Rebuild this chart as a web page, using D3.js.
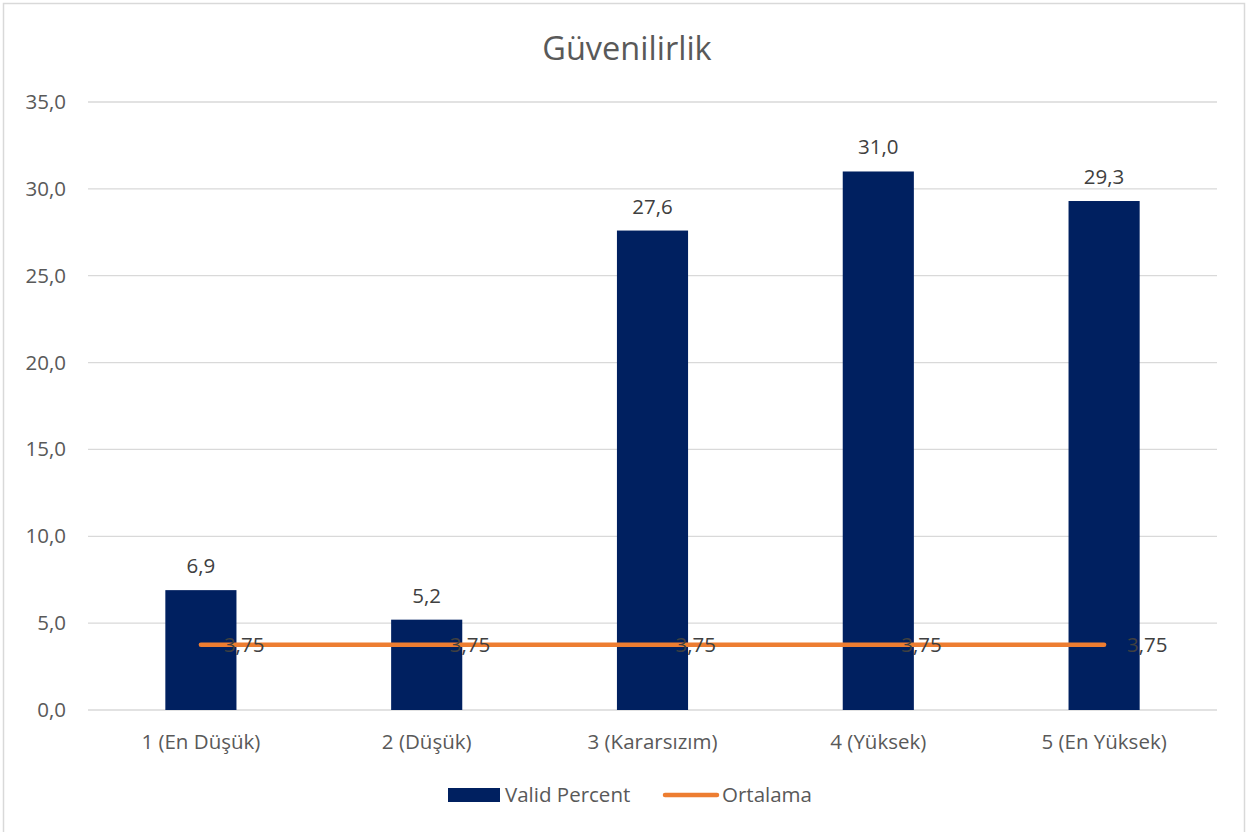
<!DOCTYPE html>
<html><head><meta charset="utf-8">
<script src="https://cdn.jsdelivr.net/npm/d3@7"></script>
<style>body{margin:0;background:#fff}svg{display:block}</style>
</head><body>
<script>
const categories = ["1 (En Düşük)", "2 (Düşük)", "3 (Kararsızım)", "4 (Yüksek)", "5 (En Yüksek)"];
const validPercent = [6.9, 5.2, 27.6, 31.0, 29.3];
const ortalama = [3.75, 3.75, 3.75, 3.75, 3.75];
const yTicks = [0, 5, 10, 15, 20, 25, 30, 35];
const title = "Güvenilirlik";
const seriesNames = ["Valid Percent", "Ortalama"];

const W = 1247, H = 832;
const font = "'Open Sans', sans-serif";
const fs = 20.5;
const fmt1 = d => d3.format(".1f")(d).replace(".", ",");
const fmt2 = d => d3.format(".2f")(d).replace(".", ",");

const svg = d3.select("body").append("svg").attr("width", W).attr("height", H);
svg.append("rect").attr("x", 3.5).attr("y", 3.5).attr("width", 1241).attr("height", 830)
  .attr("fill", "#fff").attr("stroke", "#d9d9d9").attr("stroke-width", 1.5);

const x = d3.scaleBand().domain(categories).range([88, 1217]).paddingInner(0.685).paddingOuter(0.3425);
const xc = d => x(d) + x.bandwidth() / 2;
const y = d3.scaleLinear().domain([0, 35]).range([710, 102]);

svg.append("text").attr("x", 627).attr("y", 60).attr("text-anchor", "middle")
  .attr("font-family", font).attr("font-size", 32.5).attr("fill", "#595959").text(title);

const g = svg.append("g");
g.selectAll("line.grid").data(yTicks).enter().append("line")
  .attr("x1", 88).attr("x2", 1217).attr("y1", d => y(d)).attr("y2", d => y(d))
  .attr("stroke", "#d9d9d9").attr("stroke-width", 1.3);

g.selectAll("text.ytick").data(yTicks).enter().append("text")
  .attr("x", 66).attr("y", d => y(d) + 7).attr("text-anchor", "end")
  .attr("font-family", font).attr("font-size", fs).attr("fill", "#595959").text(fmt1);

g.selectAll("text.xtick").data(categories).enter().append("text")
  .attr("x", d => xc(d)).attr("y", 749).attr("text-anchor", "middle")
  .attr("font-family", font).attr("font-size", fs).attr("fill", "#595959").text(d => d);

g.selectAll("rect.bar").data(validPercent).enter().append("rect")
  .attr("x", (d, i) => x(categories[i])).attr("width", x.bandwidth())
  .attr("y", d => y(d)).attr("height", d => y(0) - y(d)).attr("fill", "#002060");

g.selectAll("text.blab").data(validPercent).enter().append("text")
  .attr("x", (d, i) => xc(categories[i])).attr("y", d => y(d) - 17).attr("text-anchor", "middle")
  .attr("font-family", font).attr("font-size", fs).attr("fill", "#404040").text(fmt1);

const line = d3.line().x((d, i) => xc(categories[i])).y(d => y(d));
g.append("path").datum(ortalama).attr("d", line).attr("fill", "none")
  .attr("stroke", "#ED7D31").attr("stroke-width", 4.5).attr("stroke-linecap", "round");

g.selectAll("text.llab").data(ortalama).enter().append("text")
  .attr("x", (d, i) => xc(categories[i]) + 23).attr("y", d => y(d) + 7.5)
  .attr("font-family", font).attr("font-size", fs).attr("fill", "#404040").text(fmt2);

// legend
const lg = svg.append("g");
lg.append("rect").attr("x", 448).attr("y", 788).attr("width", 52).attr("height", 14).attr("fill", "#002060");
lg.append("text").attr("x", 505).attr("y", 802).attr("font-family", font).attr("font-size", fs)
  .attr("fill", "#595959").text(seriesNames[0]);
lg.append("line").attr("x1", 665).attr("x2", 717).attr("y1", 795).attr("y2", 795)
  .attr("stroke", "#ED7D31").attr("stroke-width", 4.5).attr("stroke-linecap", "round");
lg.append("text").attr("x", 722).attr("y", 802).attr("font-family", font).attr("font-size", fs)
  .attr("fill", "#595959").text(seriesNames[1]);
</script>
</body></html>
